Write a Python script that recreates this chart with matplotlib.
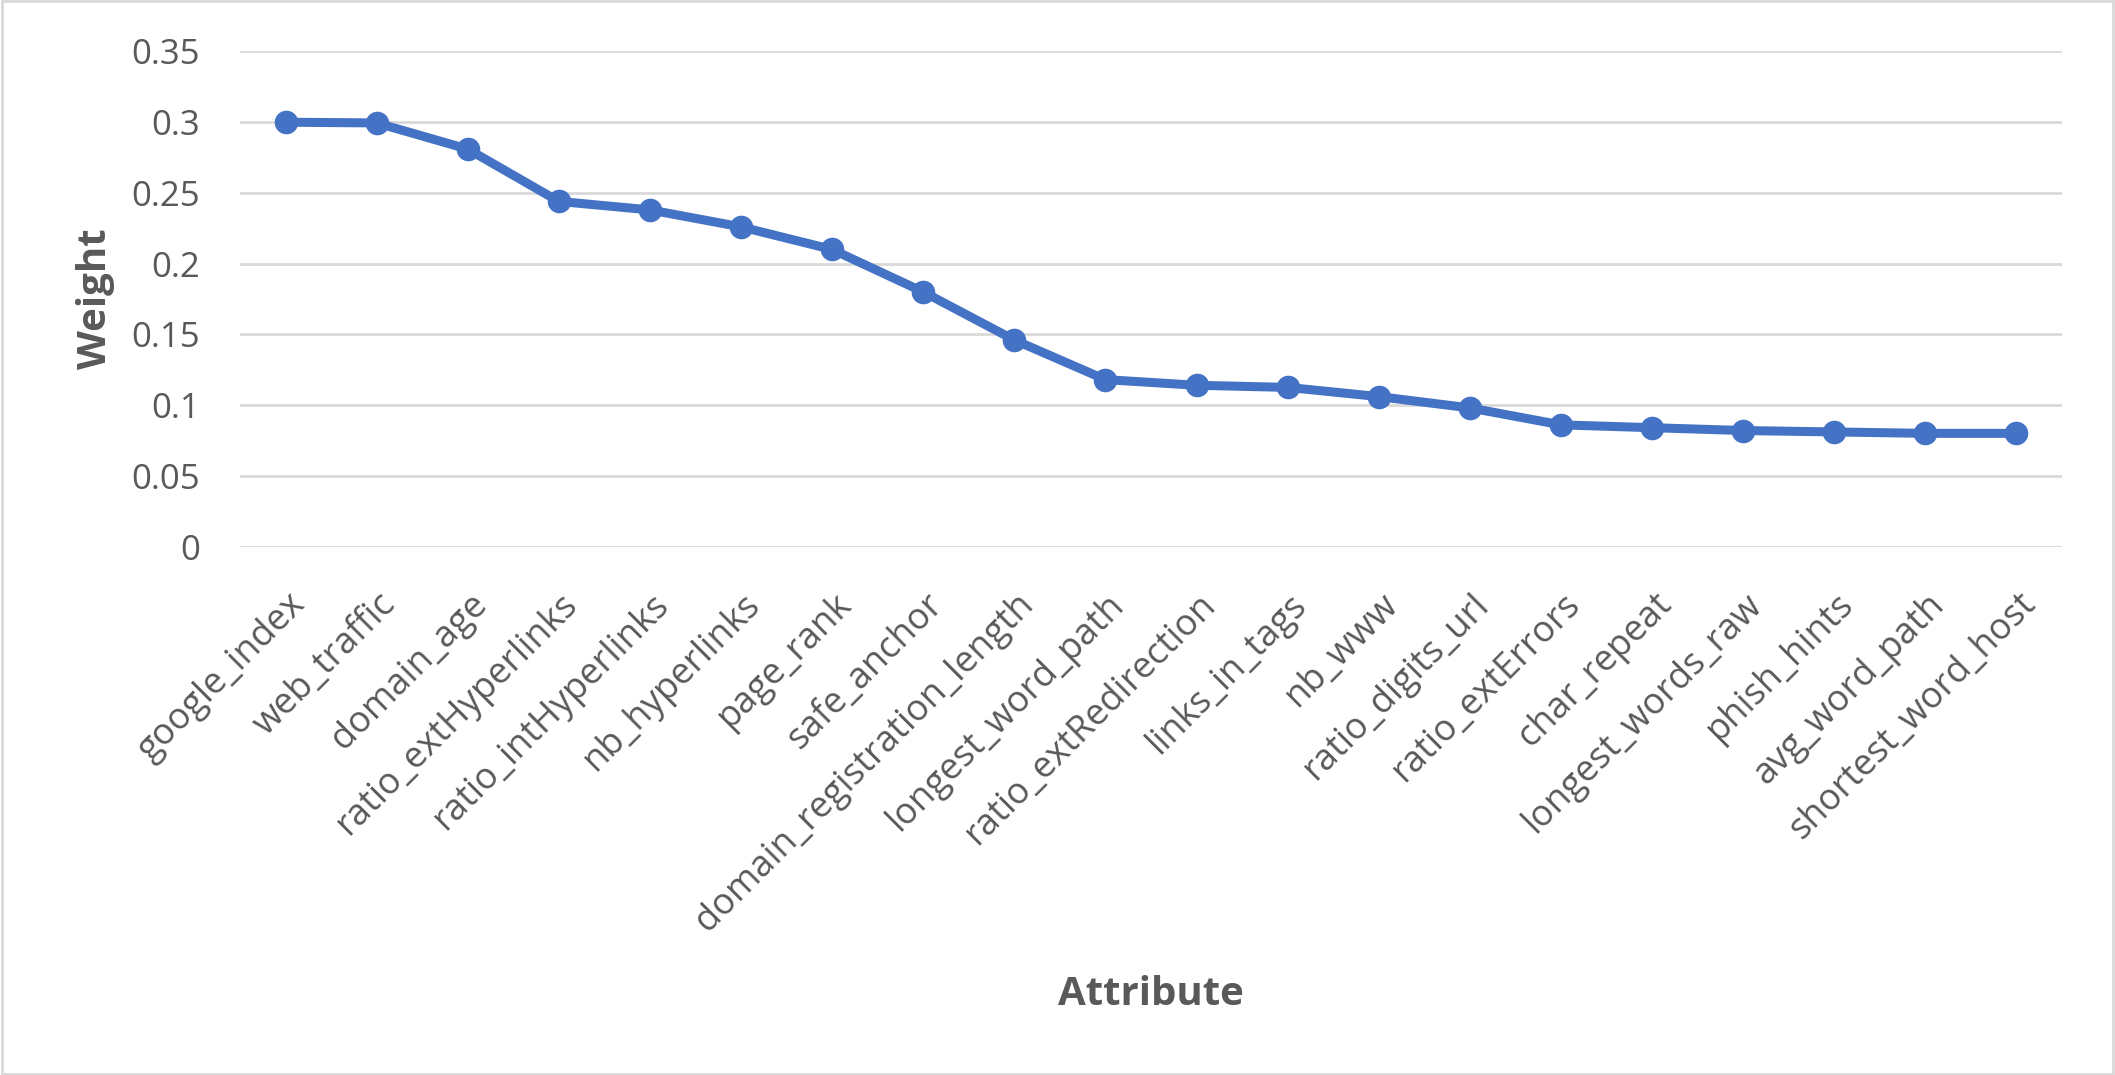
import matplotlib
matplotlib.use('Agg')
import matplotlib.pyplot as plt
import matplotlib.transforms as mtransforms
from matplotlib.patches import Rectangle

# 数据：属性名称与对应权重
attributes = ['google_index', 'web_traffic', 'domain_age', 'ratio_extHyperlinks',
              'ratio_intHyperlinks', 'nb_hyperlinks', 'page_rank', 'safe_anchor',
              'domain_registration_length', 'longest_word_path', 'ratio_extRedirection',
              'links_in_tags', 'nb_www', 'ratio_digits_url', 'ratio_extErrors',
              'char_repeat', 'longest_words_raw', 'phish_hints', 'avg_word_path',
              'shortest_word_host']
weights = [0.300, 0.2995, 0.281, 0.244, 0.238, 0.226, 0.210, 0.180, 0.146, 0.118,
           0.114, 0.1125, 0.106, 0.098, 0.086, 0.084, 0.082, 0.081, 0.080, 0.080]
y_ticks = [0, 0.05, 0.1, 0.15, 0.2, 0.25, 0.3, 0.35]
y_tick_labels = ['0', '0.05', '0.1', '0.15', '0.2', '0.25', '0.3', '0.35']

plt.rcParams['font.family'] = ['Open Sans', 'DejaVu Sans']

text_color = '#595959'
line_color = '#4472C4'
grid_color = '#D9D9D9'

fig = plt.figure(figsize=(21.15, 10.75), dpi=100)
ax = fig.add_axes([240 / 2115, 1 - 546.5 / 1075, (2062 - 240) / 2115, (546.5 - 51.5) / 1075])

x = list(range(len(attributes)))
ax.plot(x, weights, color=line_color, linewidth=6.5, marker='o', markersize=17,
        markeredgewidth=0, solid_joinstyle='round', zorder=3)

ax.set_xlim(-0.5, len(attributes) - 0.5)
ax.set_ylim(0, 0.35)
ax.set_yticks(y_ticks)
ax.set_yticklabels(y_tick_labels)
ax.set_xticks(x)
ax.set_xticklabels(attributes, rotation=45, ha='right', va='center',
                   rotation_mode='anchor')

# 网格线（Excel 风格）
ax.yaxis.grid(True, color=grid_color, linewidth=2)
ax.set_axisbelow(True)
for s in ax.spines.values():
    s.set_visible(False)

ax.tick_params(axis='both', length=0, labelcolor=text_color)
ax.tick_params(axis='y', pad=29, labelsize=25)
ax.tick_params(axis='x', pad=38, labelsize=26)

# 把 x 轴标签往右挪一点
offset = mtransforms.ScaledTranslation(14 / 100, 0, fig.dpi_scale_trans)
for lbl in ax.get_xticklabels():
    lbl.set_transform(lbl.get_transform() + offset)

ax.set_xlabel('Attribute', fontsize=29, fontweight='bold', color=text_color)
ax.set_ylabel('Weight', fontsize=29, fontweight='bold', color=text_color)
ax.xaxis.label.set_va('baseline')
ax.xaxis.set_label_coords(0.5, -0.926)
ax.yaxis.set_label_coords(-0.0686, 0.5)

# 外边框
fig.patches.append(Rectangle((0.001, 0.001), 0.998, 0.998, transform=fig.transFigure,
                             fill=False, edgecolor=grid_color, linewidth=2))

plt.savefig('out.png', dpi=100)
plt.close()
